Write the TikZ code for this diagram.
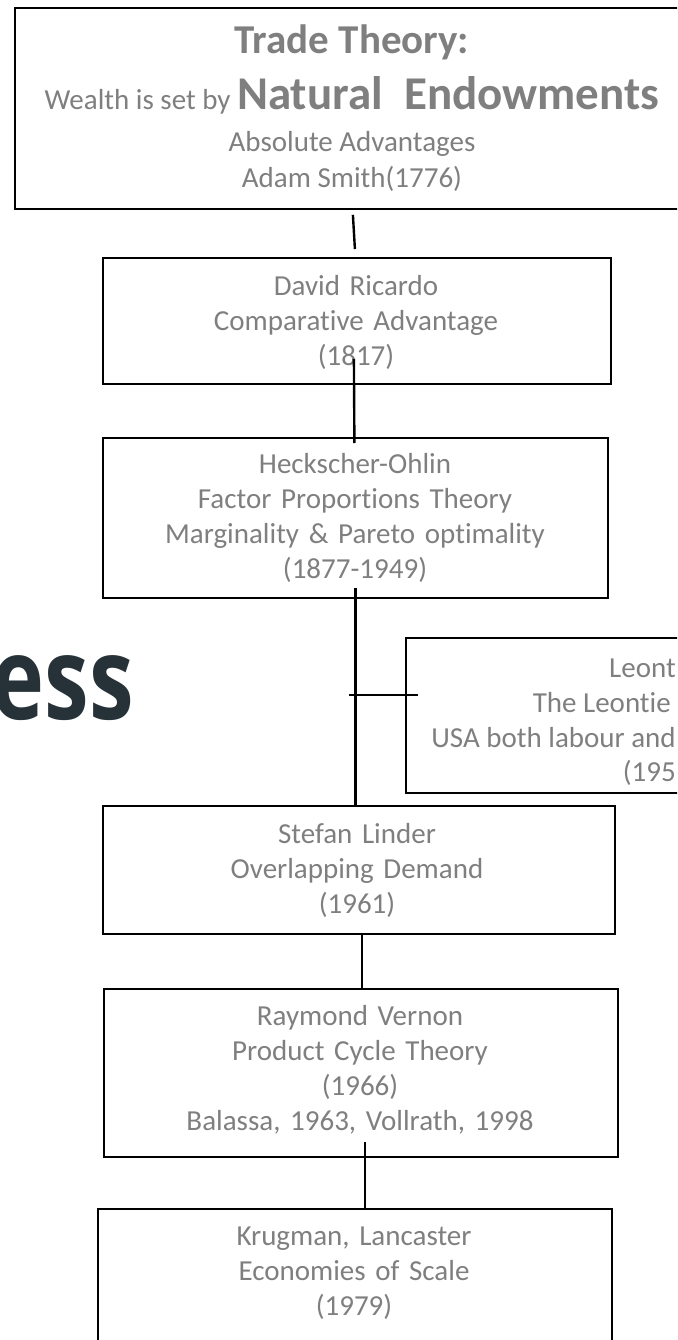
\documentclass[tikz,border=0pt]{standalone}
\usepackage{fontspec}
\setmainfont{Carlito}[Ligatures=NoCommon]
\newfontfamily\titlefont{Open Sans}
\definecolor{txtgray}{RGB}{127,127,127}
\definecolor{slate}{RGB}{38,50,56}
\tikzset{
  box/.style={draw=black, line width=1.8pt, rectangle, inner sep=0pt, anchor=north west},
  conn/.style={draw=black, line width=2.4pt},
  txt/.style={text=txtgray, font=\fontsize{29}{35}\selectfont, inner sep=0pt, align=center},
}
\begin{document}
\begin{tikzpicture}[x=1pt, y=-1pt]
\useasboundingbox (0,0) rectangle (677,1340);
\clip (0,0) rectangle (677,1340);

% background title fragment
\node[text=slate, font=\titlefont\bfseries\fontsize{115}{115}\selectfont, inner sep=0pt, anchor=base east, xscale=0.78] (ess) at (134,719) {ess};

% boxes
\node[box, minimum width=676, minimum height=201] (smith) at (14,7) {};
\node[box, minimum width=508, minimum height=126] (ricardo) at (102,257) {};
\node[box, minimum width=505, minimum height=160] (ho) at (102,437) {};
\node[box, minimum width=320, minimum height=155] (leontief) at (405,637) {};
\node[box, minimum width=512, minimum height=128] (linder) at (102,805) {};
\node[box, minimum width=514, minimum height=168] (vernon) at (103,988) {};
\node[box, minimum width=514, minimum height=160] (krugman) at (97,1208) {};

% texts of the top box
\node[txt, anchor=base, font=\fontsize{41}{44}\selectfont\bfseries] (t1) at (352,54) {Trade Theory:};
\node[txt, anchor=base] (t2) at (352,110) {{\fontsize{29}{35}\selectfont Wealth is set by }{\fontsize{47}{50}\selectfont\bfseries Natural\ \ Endowments}};
\node[txt, anchor=base] (t3) at (352,152) {Absolute Advantages};
\node[txt, anchor=base] (t4) at (352,188) {Adam Smith(1776)};

% texts of the other boxes
\node[txt, anchor=base, text width=500] (r1) at (356,295) {David Ricardo\\Comparative Advantage\\(1817)};
\node[txt, anchor=base, text width=500] (h1) at (355,473) {Heckscher-Ohlin\\Factor Proportions Theory\\Marginality \& Pareto optimality\\(1877-1949)};
\node[txt, anchor=base east] (l1) at (676,677) {Leont};
\node[txt, anchor=base east] (l2) at (671,712) {The Leontie};
\node[txt, anchor=base east] (l3) at (676,747) {USA both labour and};
\node[txt, anchor=base east] (l4) at (676,781) {(195};
\node[txt, anchor=base, text width=500] (s1) at (357,843) {Stefan Linder\\Overlapping Demand\\(1961)};
\node[txt, anchor=base, text width=500] (v1) at (360,1025) {Raymond Vernon\\Product Cycle Theory\\(1966)\\Balassa, 1963, Vollrath, 1998};
\node[txt, anchor=base, text width=500] (k1) at (354,1245) {Krugman, Lancaster\\Economies of Scale\\(1979)};

% connector end points
\coordinate (a0) at ([yshift=-5]smith.south);
\coordinate (a1) at ([xshift=-2,yshift=8]ricardo.north);
\coordinate (b0) at ([xshift=-3,yshift=26]ricardo.south);
\coordinate (b1) at ([xshift=-1,yshift=-6]ho.north);
\coordinate (c0) at ([xshift=0,yshift=11]ho.south);
\coordinate (c1) at (ho.south |- linder.north);
\coordinate (m0) at (c0 |- 0,695);
\coordinate (m1) at ([xshift=13]leontief.west |- m0);
\coordinate (d0) at ([xshift=3]linder.south);
\coordinate (d1) at (d0 |- vernon.north);
\coordinate (e0) at ([xshift=4,yshift=16]vernon.south);
\coordinate (e1) at (e0 |- krugman.north);

% connectors
\draw[conn] (a0) -- (a1);
\draw[conn] (b0) -- (b1);
\draw[conn] (c0) -- (c1);
\draw[conn] ([xshift=-6]m0) -- (m1);
\draw[conn] (d0) -- (d1);
\draw[conn] (e0) -- (e1);
\end{tikzpicture}
\end{document}
